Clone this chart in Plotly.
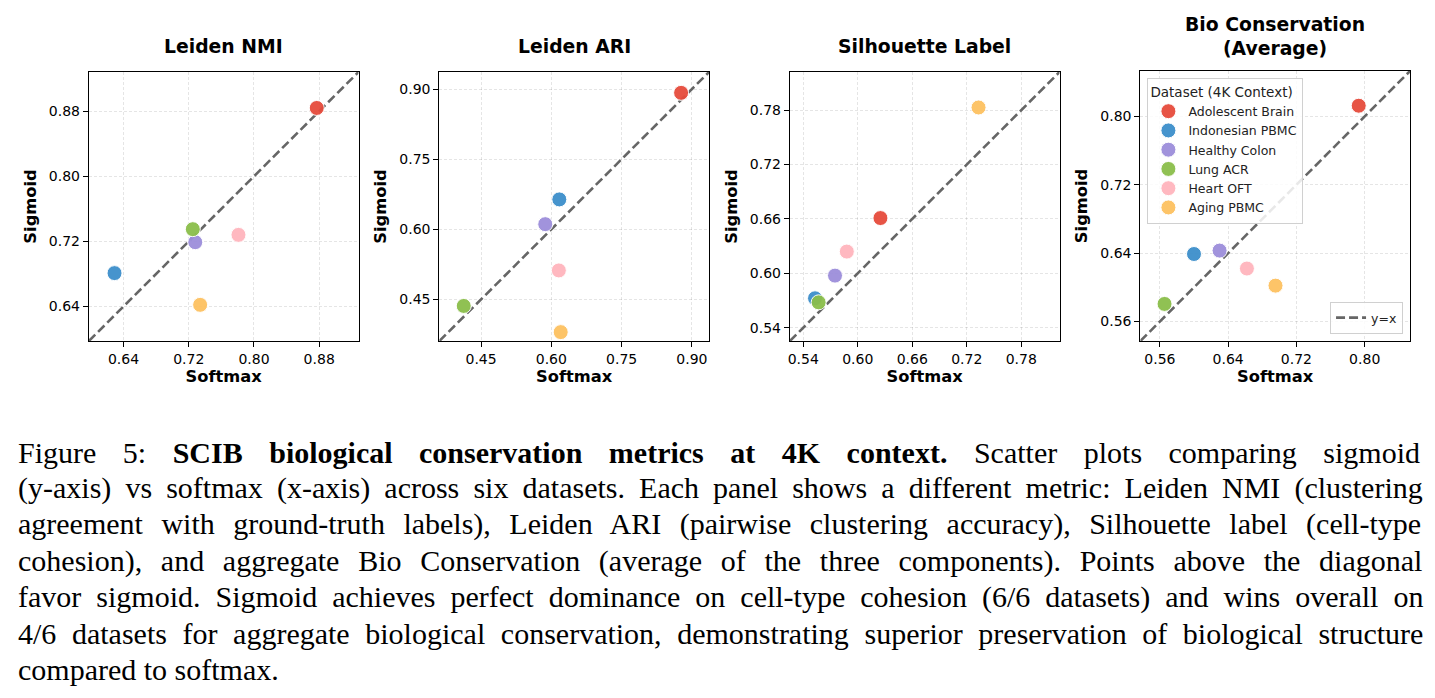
import plotly.graph_objects as go

W, H = 1435, 698

datasets = ["Adolescent Brain", "Indonesian PBMC", "Healthy Colon", "Lung ACR", "Heart OFT", "Aging PBMC"]
colors = ["#E64B3C", "#3D8FCB", "#9C8EDB", "#8BBE4A", "#FFB5BD", "#FDC160"]

panel_titles = ["Leiden NMI", "Leiden ARI", "Silhouette Label", "Bio Conservation<br>(Average)"]

nmi_softmax = [0.877, 0.629, 0.728, 0.725, 0.781, 0.734]
nmi_sigmoid = [0.884, 0.681, 0.719, 0.735, 0.728, 0.642]
ari_softmax = [0.877, 0.617, 0.587, 0.413, 0.616, 0.620]
ari_sigmoid = [0.892, 0.664, 0.611, 0.436, 0.512, 0.380]
sil_softmax = [0.625, 0.553, 0.575, 0.557, 0.588, 0.733]
sil_sigmoid = [0.661, 0.5725, 0.5975, 0.568, 0.624, 0.783]
bio_softmax = [0.793, 0.600, 0.630, 0.5655, 0.662, 0.6955]
bio_sigmoid = [0.8125, 0.639, 0.643, 0.5806, 0.622, 0.602]

tick_steps = [0.08, 0.15, 0.06, 0.08]

caption_lines = [
    "Figure 5: <b>SCIB biological conservation metrics at 4K context.</b> Scatter plots comparing sigmoid",
    "(y-axis) vs softmax (x-axis) across six datasets. Each panel shows a different metric: Leiden NMI (clustering",
    "agreement with ground-truth labels), Leiden ARI (pairwise clustering accuracy), Silhouette label (cell-type",
    "cohesion), and aggregate Bio Conservation (average of the three components). Points above the diagonal",
    "favor sigmoid. Sigmoid achieves perfect dominance on cell-type cohesion (6/6 datasets) and wins overall on",
    "4/6 datasets for aggregate biological conservation, demonstrating superior preservation of biological structure",
    "compared to softmax.",
]
# extra word spacing (px) per caption line to mimic justified text
caption_word_spacing = [19, 6.6, 11, 11.2, 7.5, 8.1, 0]

panels = [
    (nmi_softmax, nmi_sigmoid),
    (ari_softmax, ari_sigmoid),
    (sil_softmax, sil_sigmoid),
    (bio_softmax, bio_sigmoid),
]

# pixel layout of plot areas (left, right, top, bottom)
boxes = [(87, 357, 72, 341), (438, 708, 72, 341), (789, 1059, 72, 341), (1140, 1410, 71, 341)]

fig = go.Figure()
font_family = "DejaVu Sans"

for i, ((sx, sy), (l, r, t, b)) in enumerate(zip(panels, boxes)):
    n = "" if i == 0 else str(i + 1)
    xa, ya = "x" + n, "y" + n
    lo = min(min(sx), min(sy)) * 0.95
    hi = max(max(sx), max(sy)) * 1.05
    fig.add_trace(go.Scatter(
        x=[lo, hi], y=[lo, hi], mode="lines",
        line=dict(color="#666666", width=2.6, dash="9px,4px"),
        name="y=x", legend="legend2", showlegend=(i == 3),
        xaxis=xa, yaxis=ya, hoverinfo="skip"))
    for k, name in enumerate(datasets):
        fig.add_trace(go.Scatter(
            x=[sx[k]], y=[sy[k]], mode="markers", name=name,
            marker=dict(color=colors[k], size=15, opacity=0.95,
                        line=dict(color="white", width=1)),
            showlegend=(i == 3), legend="legend",
            xaxis=xa, yaxis=ya))
    axis_common = dict(
        showline=True, linecolor="black", linewidth=1.2, mirror=True,
        ticks="outside", ticklen=5, tickwidth=1.2, tickcolor="black",
        tickfont=dict(family=font_family, size=14, color="black"),
        showgrid=True, gridcolor="rgba(0,0,0,0.10)", gridwidth=0.8, griddash="3px,2px",
        zeroline=False, tick0=0, dtick=tick_steps[i], tickformat=".2f",
        range=[lo, hi],
    )
    fig.layout["xaxis" + n] = dict(
        axis_common, domain=[l / W, r / W], anchor=ya,
        title=dict(text="<b>Softmax</b>", font=dict(family=font_family, size=16.3, color="black"), standoff=4))
    fig.layout["yaxis" + n] = dict(
        axis_common, domain=[1 - b / H, 1 - t / H], anchor=xa,
        title=dict(text="<b>Sigmoid</b>", font=dict(family=font_family, size=16.3, color="black"), standoff=8))
    fig.add_annotation(
        text="<b>" + panel_titles[i] + "</b>", xref="paper", yref="paper",
        x=(l + r) / 2 / W, y=1 - (47 if i < 3 else 36) / H, xanchor="center", yanchor="middle",
        showarrow=False, font=dict(family=font_family, size=18.8, color="black"))

caption_top = 452
caption_step = 36.2
for j, line in enumerate(caption_lines):
    fig.add_annotation(
        text='<span style="word-spacing:%.1fpx">%s</span>' % (caption_word_spacing[j], line),
        xref="paper", yref="paper", x=14 / W, y=1 - (caption_top + j * caption_step) / H,
        xanchor="left", yanchor="middle", showarrow=False, align="left",
        font=dict(family="Liberation Serif", size=30, color="black"))

fig.update_layout(
    width=W, height=H, margin=dict(l=0, r=0, t=0, b=0),
    paper_bgcolor="white", plot_bgcolor="white",
    font=dict(family=font_family, color="black"),
    legend=dict(
        title=dict(text="Dataset (4K Context)", font=dict(family=font_family, size=13.5, color="#222")),
        font=dict(family=font_family, size=12.5, color="#222"),
        x=1147 / W, y=1 - 78 / H, xanchor="left", yanchor="top",
        bgcolor="rgba(255,255,255,0.85)", bordercolor="#d0d0d0", borderwidth=1,
        itemsizing="trace", tracegroupgap=0),
    legend2=dict(
        font=dict(family=font_family, size=12.5, color="#222"),
        x=1403 / W, y=1 - 334 / H, xanchor="right", yanchor="bottom",
        bgcolor="rgba(255,255,255,0.85)", bordercolor="#d0d0d0", borderwidth=1),
    showlegend=True,
)

fig.write_html("out.html")
